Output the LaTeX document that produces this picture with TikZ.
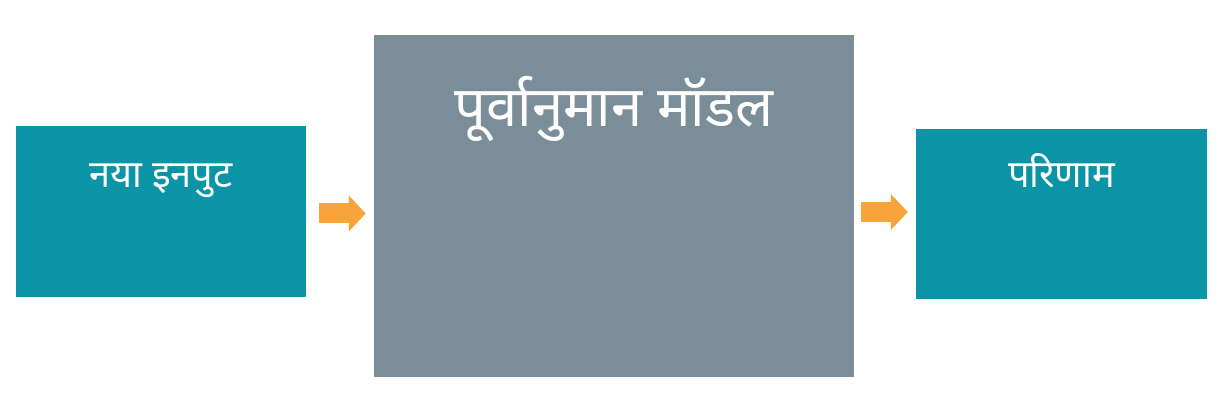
\documentclass[tikz,border=0pt]{standalone}
\usepackage{fontspec}
\newfontfamily\deva[Script=Devanagari]{Noto Sans}
\usetikzlibrary{positioning, arrows.meta}
\definecolor{tealbox}{RGB}{10,148,165}
\definecolor{slatebox}{RGB}{122,142,154}
\definecolor{arroworange}{RGB}{249,164,58}

\begin{document}
\begin{tikzpicture}[x=1pt,y=1pt,
  block/.style={fill=#1, draw=none, inner sep=0pt},
  caption/.style={text=white, font=\deva\fontsize{38}{44}\selectfont},
  flow/.style={draw=arroworange, line width=20pt,
    -{Triangle[length=17pt,width=35pt,fill=arroworange]}}]
  \useasboundingbox (0,0) rectangle (1219,411);
  % Define the three blocks
  \node[block=tealbox, minimum width=290pt, minimum height=171pt] (input) at (161,199.5) {};
  \node[block=slatebox, minimum width=480pt, minimum height=342pt] (model) at (614,205) {};
  \node[block=tealbox, minimum width=291pt, minimum height=170pt] (output) at (1061.5,197) {};

  % Titles near the top of each block
  \node[caption] (input_t) at ([yshift=-55pt]input.north) {नया इनपुट};
  \node[caption, font=\deva\fontsize{56}{64}\selectfont] (model_t) at ([yshift=-74pt]model.north) {पूर्वानुमान मॉडल};
  \node[caption] (output_t) at ([yshift=-42pt]output.north) {परिणाम};

  % Arrows between the blocks
  \draw[flow, shorten <=13pt, shorten >=8pt] ([yshift=-2pt]input.east) -- ([yshift=-2pt]input.east -| model.west);
  \draw[flow, shorten <=7pt, shorten >=8pt] ([yshift=2pt]output.west -| model.east) -- ([yshift=2pt]output.west);
\end{tikzpicture}
\end{document}
